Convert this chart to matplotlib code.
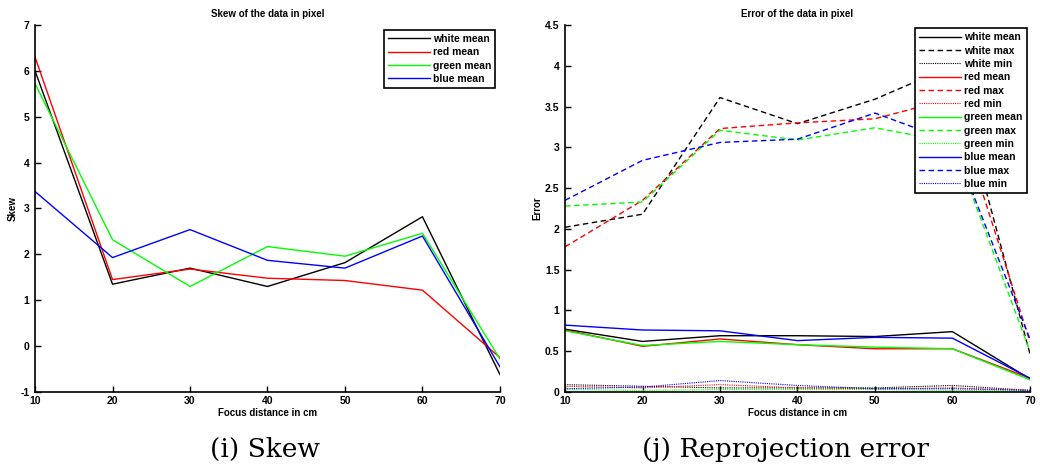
import matplotlib.pyplot as plt

dist = [10, 20, 30, 40, 50, 60, 70]

# skew per channel
skew_white = [6.0, 1.35, 1.70, 1.30, 1.82, 2.82, -0.62]
skew_red = [6.3, 1.45, 1.68, 1.48, 1.43, 1.22, -0.25]
skew_green = [5.72, 2.32, 1.30, 2.17, 1.96, 2.46, -0.28]
skew_blue = [3.37, 1.93, 2.54, 1.87, 1.70, 2.40, -0.45]

# reprojection error (mean / max / min)
err_white_mean = [0.77, 0.62, 0.69, 0.69, 0.68, 0.74, 0.16]
err_white_max = [2.02, 2.18, 3.61, 3.29, 3.59, 4.0, 0.47]
err_white_min = [0.09, 0.07, 0.05, 0.05, 0.05, 0.08, 0.02]
err_red_mean = [0.76, 0.56, 0.65, 0.58, 0.53, 0.53, 0.17]
err_red_max = [1.78, 2.35, 3.23, 3.30, 3.35, 3.60, 0.62]
err_red_min = [0.07, 0.05, 0.09, 0.05, 0.04, 0.05, 0.02]
err_green_mean = [0.75, 0.57, 0.62, 0.58, 0.55, 0.53, 0.15]
err_green_max = [2.28, 2.33, 3.21, 3.09, 3.24, 3.06, 0.50]
err_green_min = [0.03, 0.02, 0.03, 0.03, 0.03, 0.02, 0.01]
err_blue_mean = [0.82, 0.76, 0.75, 0.63, 0.67, 0.66, 0.17]
err_blue_max = [2.35, 2.84, 3.06, 3.10, 3.42, 3.07, 0.65]
err_blue_min = [0.04, 0.06, 0.14, 0.08, 0.04, 0.04, 0.02]

plt.rcParams['font.family'] = ['Liberation Sans', 'DejaVu Sans']
plt.rcParams['font.weight'] = 'bold'
plt.rcParams['font.size'] = 7
plt.rcParams['axes.unicode_minus'] = False

cols = {'white': 'black', 'red': '#ff0000', 'green': '#00ff00', 'blue': '#0000ff'}


def style_axes(ax):
    ax.spines['top'].set_visible(False)
    ax.spines['right'].set_visible(False)
    ax.tick_params(direction='in', length=4, width=1, labelsize=7.5)
    ax.tick_params(axis='x', pad=3)
    ax.tick_params(axis='y', pad=4)
    ax.spines['left'].set_linewidth(1.2)
    ax.spines['bottom'].set_linewidth(1.2)
    ax.set_xlim(10, 70)
    ax.set_xticks(dist)
    for lab in ax.get_xticklabels() + ax.get_yticklabels():
        lab.set_fontweight('bold')


def make_legend(ax, gap):
    leg = ax.legend(loc='upper right', fontsize=7.5, handlelength=4.0, handletextpad=0.3,
                    labelspacing=0.32, borderpad=0.4, fancybox=False, framealpha=1,
                    borderaxespad=gap, edgecolor='black')
    leg.get_frame().set_linewidth(1.2)
    return leg


fig = plt.figure(figsize=(10.4, 4.76), dpi=100)

ax1 = fig.add_axes([0.0337, 0.1765, 0.447, 0.771])
ax1.plot(dist, skew_white, color=cols['white'], lw=1, label='white mean')
ax1.plot(dist, skew_red, color=cols['red'], lw=1, label='red mean')
ax1.plot(dist, skew_green, color=cols['green'], lw=1, label='green mean')
ax1.plot(dist, skew_blue, color=cols['blue'], lw=1, label='blue mean')
ax1.set_ylim(-1, 7)
ax1.set_yticks(range(-1, 8))
style_axes(ax1)
ax1.set_title('Skew of the data in pixel', fontsize=7, fontweight='bold', pad=6)
ax1.set_xlabel('Focus distance in cm', fontsize=7, fontweight='bold', labelpad=1)
ax1.set_ylabel('Skew', fontsize=7, fontweight='bold', labelpad=2)
make_legend(ax1, 0.45)

ax2 = fig.add_axes([0.5433, 0.1765, 0.447, 0.771])
series = [
    ('white', err_white_mean, err_white_max, err_white_min),
    ('red', err_red_mean, err_red_max, err_red_min),
    ('green', err_green_mean, err_green_max, err_green_min),
    ('blue', err_blue_mean, err_blue_max, err_blue_min),
]
for name, mean, mx, mn in series:
    c = cols[name]
    ax2.plot(dist, mean, color=c, lw=1, ls='-', label=name + ' mean')
    ax2.plot(dist, mx, color=c, lw=1, ls=(0, (4, 2.5)), label=name + ' max')
    ax2.plot(dist, mn, color=c, lw=0.8, ls=(0, (1, 1)), label=name + ' min')
ax2.set_ylim(0, 4.5)
ax2.set_yticks([0, 0.5, 1, 1.5, 2, 2.5, 3, 3.5, 4, 4.5])
ax2.set_yticklabels(['0', '0.5', '1', '1.5', '2', '2.5', '3', '3.5', '4', '4.5'])
style_axes(ax2)
ax2.set_title('Error of the data in pixel', fontsize=7, fontweight='bold', pad=6)
ax2.set_xlabel('Focus distance in cm', fontsize=7, fontweight='bold', labelpad=1)
ax2.set_ylabel('Error', fontsize=7, fontweight='bold', labelpad=2)
make_legend(ax2, 0.3)

fig.text(0.255, 0.055, '(i) Skew', fontsize=19, family='DejaVu Serif',
         fontweight='normal', ha='center', va='center')
fig.text(0.755, 0.055, '(j) Reprojection error', fontsize=19, family='DejaVu Serif',
         fontweight='normal', ha='center', va='center')

fig.savefig('out.png', dpi=100)
